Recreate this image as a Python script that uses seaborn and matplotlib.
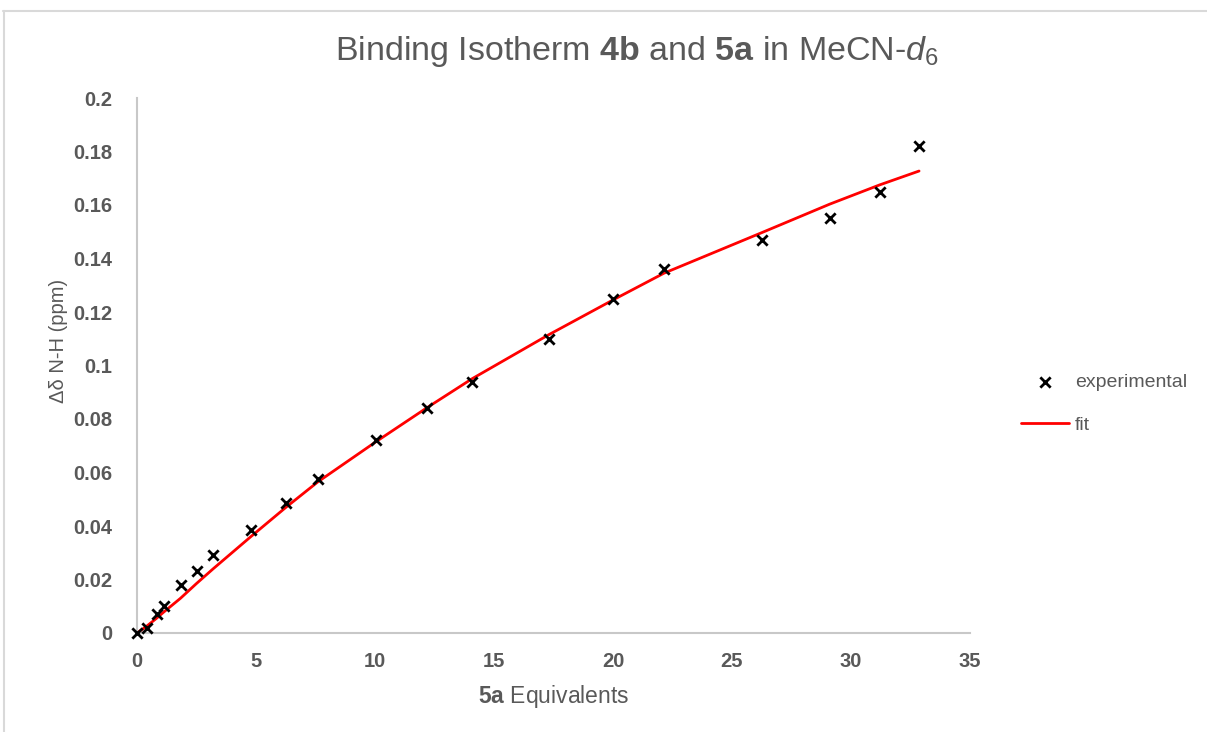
import matplotlib
matplotlib.use("Agg")
import matplotlib.pyplot as plt
from matplotlib.lines import Line2D
import seaborn as sns
import pandas as pd

# ── Data ──────────────────────────────────────────────────────────────────────
equiv = [0, 0.40, 0.82, 1.12, 1.83, 2.5, 3.2, 4.78, 6.26, 7.6, 10.04, 12.18,
         14.07, 17.3, 20.0, 22.14, 26.26, 29.1, 31.2, 32.86]
delta_exp = [0, 0.002, 0.007, 0.010, 0.018, 0.023, 0.029, 0.0385, 0.0485, 0.0575,
             0.072, 0.084, 0.094, 0.110, 0.125, 0.136, 0.147, 0.155, 0.165, 0.182]
delta_fit = [0, 0.0025, 0.0055, 0.0078, 0.013, 0.0185, 0.024, 0.036, 0.047, 0.0565,
             0.0715, 0.0842, 0.0950, 0.1115, 0.1245, 0.1345, 0.1497, 0.1603, 0.1675, 0.1727]
x_ticks = [0, 5, 10, 15, 20, 25, 30, 35]
y_ticks = [0, 0.02, 0.04, 0.06, 0.08, 0.1, 0.12, 0.14, 0.16, 0.18, 0.2]

df = pd.DataFrame({"equiv": equiv, "exp": delta_exp, "fit": delta_fit})

TEXT = "#595959"
AXIS = "#c8c8c8"

sns.set_style("white")
plt.rcParams["font.family"] = ["Liberation Sans", "DejaVu Sans"]
plt.rcParams["mathtext.fontset"] = "custom"
plt.rcParams["mathtext.rm"] = "Liberation Sans"
plt.rcParams["mathtext.bf"] = "Liberation Sans:bold"
plt.rcParams["mathtext.it"] = "Liberation Sans:italic"

fig = plt.figure(figsize=(12.07, 7.32), dpi=100)
ax = fig.add_axes([137 / 1207, 1 - 633 / 732, (970 - 137) / 1207, (633 - 98) / 732])

sns.lineplot(data=df, x="equiv", y="fit", color="#ff0000", linewidth=2, ax=ax,
             label="fit")
sns.scatterplot(data=df, x="equiv", y="exp", marker="x", color="black", s=55,
                linewidth=2, ax=ax, label="experimental", zorder=3, clip_on=False)

ax.set_xlim(0, 35)
ax.set_ylim(0, 0.2)
ax.set_xticks(x_ticks)
ax.set_yticks(y_ticks)
ax.set_xticklabels([str(t) for t in x_ticks])
ax.set_yticklabels(["0" if t == 0 else f"{t:g}" for t in y_ticks])
ax.tick_params(axis="y", length=0, pad=18, labelsize=14.5, labelcolor=TEXT)
ax.tick_params(axis="x", length=0, pad=14, labelsize=14.5, labelcolor=TEXT)
for lab in ax.get_yticklabels() + ax.get_xticklabels():
    lab.set_fontweight("bold")

for side in ("top", "right"):
    ax.spines[side].set_visible(False)
for side in ("left", "bottom"):
    ax.spines[side].set_color(AXIS)
    ax.spines[side].set_linewidth(1.5)

ax.set_xlabel(r"$\mathbf{5a}$ Equivalents", color=TEXT, fontsize=16.5, labelpad=8)
ax.set_ylabel("Δδ N-H (ppm)", color=TEXT, fontsize=14.5)
ax.yaxis.set_label_coords(-0.083, 0.546)

fig.text(0.528, 0.93, r"Binding Isotherm $\mathbf{4b}$ and $\mathbf{5a}$ in MeCN-$d_6$",
         ha="center", va="center", color=TEXT, fontsize=24.5)

# legend on the right, experimental first
handles, labels = ax.get_legend_handles_labels()
order = [labels.index("experimental"), labels.index("fit")]
ax.legend([handles[i] for i in order], [labels[i] for i in order],
          loc="center left", bbox_to_anchor=(1.049, 0.428), frameon=False,
          borderpad=0, fontsize=14, labelcolor=TEXT, handlelength=2.5,
          handletextpad=0.3, labelspacing=1.3)

# chart area border (cropped on right/bottom)
fig.add_artist(Line2D([3 / 1207, 1], [1 - 11 / 732, 1 - 11 / 732],
                      color="#d9d9d9", linewidth=1.5, transform=fig.transFigure))
fig.add_artist(Line2D([3.5 / 1207, 3.5 / 1207], [0, 1 - 11 / 732],
                      color="#d9d9d9", linewidth=1.5, transform=fig.transFigure))

fig.savefig("out.png", dpi=100, facecolor="white")
